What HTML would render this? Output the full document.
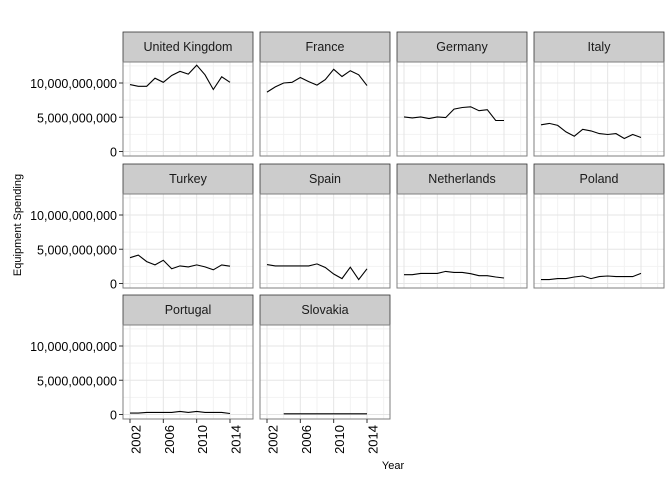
<!DOCTYPE html>
<html><head><meta charset="utf-8"><style>
body{margin:0;background:#fff;width:672px;height:480px;overflow:hidden}
svg{font-family:"Liberation Sans",Arial,sans-serif}
</style></head><body>
<svg id="chart" width="672" height="480" viewBox="0 0 672 480" xmlns="http://www.w3.org/2000/svg"></svg>
<script>
const countries = ["United Kingdom","France","Germany","Italy","Turkey","Spain","Netherlands","Poland","Portugal","Slovakia"];
const years = [2002,2003,2004,2005,2006,2007,2008,2009,2010,2011,2012,2013,2014];
// values in billions
const ukValues = [9.76,9.52,9.52,10.7,10.1,11.1,11.7,11.3,12.6,11.2,9.05,10.9,10.1];
const franceValues = [8.67,9.43,10.0,10.1,10.8,10.2,9.7,10.5,12.0,10.95,11.8,11.2,9.62];
const germanyValues = [5.05,4.9,5.05,4.81,5.05,4.95,6.19,6.43,6.52,5.95,6.1,4.52,4.52];
const italyValues = [3.9,4.1,3.81,2.86,2.24,3.24,3.0,2.62,2.48,2.62,1.9,2.48,2.05];
const turkeyValues = [3.76,4.14,3.19,2.71,3.38,2.14,2.57,2.43,2.71,2.43,2.0,2.71,2.52];
const spainValues = [2.76,2.57,2.57,2.57,2.57,2.57,2.86,2.33,1.38,0.71,2.38,0.57,2.14];
const netherlandsValues = [1.29,1.29,1.48,1.48,1.48,1.76,1.62,1.62,1.43,1.14,1.14,0.95,0.81];
const polandValues = [0.57,0.57,0.71,0.71,0.95,1.1,0.71,1.0,1.1,1.0,1.0,1.0,1.48];
const portugalValues = [0.2,0.2,0.3,0.3,0.3,0.3,0.45,0.3,0.45,0.3,0.3,0.3,0.15];
const slovakiaValues = [null,null,0.1,0.1,0.1,0.1,0.1,0.1,0.1,0.1,0.1,0.1,0.1];
const yTicks = [0,5,10];
const yTickLabels = ["0","5,000,000,000","10,000,000,000"];
const xTicks = [2002,2006,2010,2014];
const series = [ukValues,franceValues,germanyValues,italyValues,turkeyValues,spainValues,netherlandsValues,polandValues,portugalValues,slovakiaValues];

const NS="http://www.w3.org/2000/svg";
const svg=document.getElementById('chart');
function el(tag,attrs,parent){const e=document.createElementNS(NS,tag);for(const k in attrs)e.setAttribute(k,attrs[k]);(parent||svg).appendChild(e);return e;}
const colLeft=[123,260,397,534], rowTop=[62,194,325], PW=130, PH=94;
function xScale(c,yr){return colLeft[c]+7+(yr-2002)*8.333;}
function yScale(r,v){return rowTop[r]+89.5-v*6.85;}

countries.forEach((name,i)=>{
  const c=i%4, r=Math.floor(i/4), L=colLeft[c], T=rowTop[r];
  const g=el('g',{});
  
  
  const strip=el('rect',{x:L,y:T-30,width:PW,height:30,fill:'#cccccc',stroke:'#333',"stroke-width":0.8},g);
  
  
  const st=el('text',{x:L+PW/2,y:T-11,"text-anchor":"middle","font-size":12.5,fill:'#1a1a1a'},g);
  st.textContent=name;
  
  
  el('rect',{x:L,y:T,width:PW,height:PH,fill:'#fff'},g);
  for(let yr=2000;yr<=2016;yr+=4){const x=xScale(c,yr);if(x>L&&x<L+PW)el('line',{x1:x,x2:x,y1:T,y2:T+PH,stroke:'#f2f2f2'},g);}
  [-2.5,2.5,7.5,12.5].forEach(v=>{const y=yScale(r,v);if(y>T&&y<T+PH)el('line',{x1:L,x2:L+PW,y1:y,y2:y,stroke:'#f2f2f2'},g);});
  xTicks.forEach(yr=>{const x=xScale(c,yr);el('line',{x1:x,x2:x,y1:T,y2:T+PH,stroke:'#e5e5e5'},g);});
  yTicks.forEach(v=>{const y=yScale(r,v);el('line',{x1:L,x2:L+PW,y1:y,y2:y,stroke:'#e5e5e5'},g);});
  let d='',started=false;
  series[i].forEach((v,j)=>{if(v==null)return;d+=(started?'L':'M')+xScale(c,years[j]).toFixed(1)+','+yScale(r,v).toFixed(1);started=true;});
  const p=el('path',{d:d,fill:'none',stroke:'#000',"stroke-width":1.1},g);
  
  
  el('rect',{x:L,y:T,width:PW,height:PH,fill:'none',stroke:'#7f7f7f',"stroke-width":1},g);
  if(c===0){
    yTicks.forEach((v,k)=>{const y=yScale(r,v);
      el('line',{x1:L-4,x2:L,y1:y,y2:y,stroke:'#333'},g);
      const t=el('text',{x:L-6,y:y+5,"text-anchor":"end","font-size":12.5,fill:'#000'},g);
      t.textContent=yTickLabels[k];
      
      
    });
  }
  if(r===2){
    xTicks.forEach(yr=>{const x=xScale(c,yr);
      el('line',{x1:x,x2:x,y1:T+PH,y2:T+PH+4,stroke:'#333'},g);
      const t=el('text',{transform:`translate(${x+10.5},${T+PH+6}) rotate(-90)`,"text-anchor":"end","font-size":13,fill:'#000'},g);
      t.textContent=yr;
      
      
    });
  }
});
const yt=el('text',{transform:'translate(21,225) rotate(-90)',"text-anchor":"middle","font-size":11,fill:'#000'});
yt.textContent='Equipment Spending';


const xt=el('text',{x:393,y:469,"text-anchor":"middle","font-size":11,fill:'#000'});
xt.textContent='Year';


</script>
</body></html>
